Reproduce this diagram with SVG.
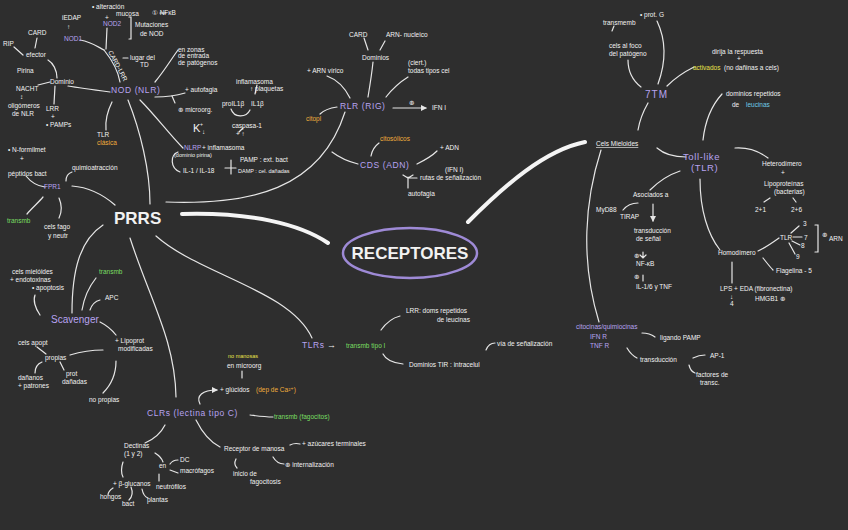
<svg xmlns="http://www.w3.org/2000/svg" width="848" height="530" viewBox="0 0 848 530">
<defs>
<style>
text{font-family:"Liberation Sans","DejaVu Sans",sans-serif;fill:#f2f2f2;font-size:6.5px}
.p{fill:#b7a3f0}.g{fill:#79de63}.o{fill:#f0ad3c}.y{fill:#e9e24a}.c{fill:#6fcbe6}
.m{font-size:8.5px;letter-spacing:0.6px}
.b{font-weight:bold}
.l{fill:none;stroke:#e6e6e6;stroke-width:1.2;stroke-linecap:round}
.k{fill:none;stroke:#f4f4f4;stroke-width:4;stroke-linecap:round}
</style>
<marker id="a" viewBox="0 0 6 6" refX="5" refY="3" markerWidth="5" markerHeight="5" orient="auto"><path d="M0,0 L6,3 L0,6 z" fill="#e6e6e6"/></marker>
</defs>
<rect width="848" height="530" fill="#2e2e2e"/>

<g id="connectors">
<path class="k" d="M182,214 C250,212 300,224 328,243"/>
<path class="k" d="M468,222 C505,185 545,150 585,142"/>
<path class="l" d="M150,204 C150,170 140,130 128,100"/>
<path class="l" d="M115,205 C100,192 85,187 72,186"/>
<path class="l" d="M166,202 C250,205 320,190 345,112"/>
<path class="l" d="M332,152 C340,158 350,162 358,164"/>
<path class="l" d="M156,236 C200,275 290,290 312,338"/>
<path class="l" d="M130,238 C150,300 175,340 176,397"/>
<path class="l" d="M103,225 C80,240 72,270 72,313"/>
<path class="l" d="M80,40 C92,42 98,47 104,50"/>
<path class="l" d="M107,28 L106,49"/>
<path class="l" d="M104,50 C112,60 118,70 120,82"/>
<path class="l" d="M110,92 C95,90 80,88 68,86"/>
<path class="l" d="M57,78 C57,70 53,63 48,60"/>
<path class="l" d="M37,38 L35,48"/>
<path class="l" d="M14,47 L23,55"/>
<path class="l" d="M50,82 L38,85"/>
<path class="l" d="M55,86 L54,104"/>
<path class="l" d="M112,102 C107,112 105,120 106,130"/>
<path class="l" d="M140,100 C155,115 170,135 183,148"/>
<path class="l" d="M155,82 C165,70 172,58 178,50"/>
<path class="l" d="M155,97 C165,97 175,96 185,93"/>
<path class="l" d="M172,96 L175,103"/>
<path class="l" d="M178,152 C170,155 170,168 180,172"/>
<path class="l" d="M225,168 L236,168 M231,160 L231,174"/>
<path class="l" d="M231,109 C234,118 246,118 250,110"/>
<path class="l" d="M255,94 L257,85"/>
<path class="l" d="M239,132 L243,128"/>
<path class="l" d="M129,17 L131,17 L131,39 L129,39"/>
<path class="l" d="M160,13 L166,13"/>
<path class="l" d="M123,58 L128,58"/>
<path class="l" d="M45,187 C36,186 30,181 26,176"/>
<path class="l" d="M66,181 C66,176 69,173 72,172"/>
<path class="l" d="M43,197 C38,203 32,208 27,214"/>
<path class="l" d="M59,198 C62,205 62,212 59,218"/>
<path class="l" d="M40,315 C35,308 33,300 35,295"/>
<path class="l" d="M82,310 C84,298 88,288 96,278"/>
<path class="l" d="M90,310 C92,304 96,301 100,300"/>
<path class="l" d="M100,322 C106,325 112,330 116,335"/>
<path class="l" d="M70,355 C80,352 92,350 103,350"/>
<path class="l" d="M116,361 C116,375 110,386 103,393"/>
<path class="l" d="M37,347 L46,354"/>
<path class="l" d="M42,362 C37,364 35,368 35,373"/>
<path class="l" d="M60,362 L64,370"/>
<path class="l" d="M200,404 C196,396 202,390 217,390" marker-end="url(#a)"/>
<path class="l" d="M242,378 L242,371"/>
<path class="l" d="M250,415 C258,416 264,417 273,417"/>
<path class="l" d="M196,420 C202,432 210,442 220,447"/>
<path class="l" d="M165,425 C160,435 152,440 145,443"/>
<path class="l" d="M123,462 C121,468 121,473 123,477"/>
<path class="l" d="M155,453 C160,456 162,459 163,462"/>
<path class="l" d="M170,464 C172,461 175,460 178,460"/>
<path class="l" d="M170,470 L178,473"/>
<path class="l" d="M159,474 L159,481"/>
<path class="l" d="M113,488 C110,490 108,492 108,495"/>
<path class="l" d="M131,487 C133,492 132,497 129,500"/>
<path class="l" d="M142,489 C143,494 145,497 148,498"/>
<path class="l" d="M290,445 C294,443 296,443 300,444"/>
<path class="l" d="M273,457 C276,462 280,464 284,464"/>
<path class="l" d="M236,459 C234,463 235,466 237,468"/>
<path class="l" d="M381,330 C386,323 392,318 400,316"/>
<path class="l" d="M383,354 C386,360 393,363 403,364"/>
<path class="l" d="M486,350 C488,345 491,343 495,343"/>
<path class="l" d="M368,97 C370,85 372,72 373,62"/>
<path class="l" d="M364,38 L368,50"/>
<path class="l" d="M380,50 L385,41"/>
<path class="l" d="M350,98 C345,88 338,80 327,76"/>
<path class="l" d="M386,97 C393,88 400,82 408,77"/>
<path class="l" d="M337,107 C330,108 324,110 320,114"/>
<path class="l" d="M393,108 L426,108" marker-end="url(#a)"/>
<path class="l" d="M371,156 C372,150 375,146 379,143"/>
<path class="l" d="M417,164 C425,160 432,156 437,151"/>
<path class="l" d="M408,177 L408,188 M403,175 L408,178 L413,175 M408,178 L417,178"/>
<path class="l" d="M638,130 C640,118 644,110 648,103"/>
<path class="l" d="M641,87 C632,80 628,70 628,60"/>
<path class="l" d="M658,84 C666,62 666,40 657,21"/>
<path class="l" d="M667,86 C675,78 684,72 694,67"/>
<path class="l" d="M612,31 L614,26"/>
<path class="l" d="M657,148 C665,155 675,157 686,157"/>
<path class="l" d="M703,140 C705,122 712,105 722,94"/>
<path class="l" d="M735,148 C750,147 760,152 768,158"/>
<path class="l" d="M680,171 C668,175 658,182 650,190"/>
<path class="l" d="M638,203 C632,203 627,205 623,210"/>
<path class="l" d="M653,204 L653,221" marker-end="url(#a)"/>
<path class="l" d="M700,179 C700,210 708,235 720,250"/>
<path class="l" d="M758,251 C765,248 772,243 779,238"/>
<path class="l" d="M763,258 C767,263 770,267 773,270"/>
<path class="l" d="M732,262 L732,283"/>
<path class="l" d="M791,233 L799,226 M793,237 L802,237 M792,241 L800,245 M789,243 L795,254"/>
<path class="l" d="M815,225 L818,225 L818,252 L815,252"/>
<path class="l" d="M770,198 L764,202 M793,198 L796,202"/>
<path class="l" d="M643,252 L643,258 M640,255 L643,258 L646,255"/>
<path class="l" d="M643,275 L643,281"/>
<path class="l" d="M601,150 C585,200 580,260 599,322"/>
<path class="l" d="M642,333 C647,333 651,334 655,337"/>
<path class="l" d="M627,348 C630,353 633,356 637,358"/>
<path class="l" d="M693,358 C697,356 701,355 705,355"/>
<path class="l" d="M689,365 C690,369 692,372 695,373"/>
</g>

<g id="receptores"><ellipse cx="410" cy="253" rx="67" ry="25" fill="none" stroke="#9e8ad6" stroke-width="2.5"/><text x="410" y="259" text-anchor="middle" class="b" style="font-size:17px">RECEPTORES</text></g>
<g id="prrs"><text x="114" y="224" class="b" style="font-size:17px">PRRS</text></g>

<g id="nod">
<text x="92" y="9">• alteración</text><text x="116" y="16">mucosa</text>
<text x="105" y="20">+</text>
<text x="103" y="26" class="p">NOD2</text>
<text x="152" y="15">① NFκB</text>
<text x="135" y="27">Mutaciones</text><text x="140" y="36">de NOD</text>
<text x="62" y="20">iEDAP</text><text x="67" y="29">↑</text>
<text x="64" y="41" class="p">NOD1</text>
<text x="108" y="52" transform="rotate(62 108 52)">CARD-LRR</text>
<text x="130" y="60">lugar del</text><text x="140" y="67">TD</text>
<text x="178" y="52">en zonas</text><text x="178" y="58">de entrada</text><text x="178" y="65">de patógenos</text>
<text x="28" y="35">CARD</text>
<text x="3" y="46">RIP</text>
<text x="26" y="57">efector</text>
<text x="17" y="73">Pirina</text>
<text x="16" y="91">NACHT</text><text x="20" y="99">↕</text>
<text x="8" y="108">oligómeros</text><text x="12" y="116">de NLR</text>
<text x="50" y="84">Dominio</text>
<text x="46" y="111">LRR</text><text x="51" y="119">+</text><text x="46" y="127">• PAMPs</text>
<text x="111" y="93" class="p m">NOD (NLR)</text>
<text x="97" y="137">TLR</text><text x="97" y="145" class="o">clásica</text>
<text x="185" y="92">+ autofagia</text>
<text x="178" y="112">⊕ microorg.</text>
<text x="236" y="84">inflamasoma</text><text x="250" y="91">↑ plaquetas</text>
<text x="222" y="106">proIL1β</text><text x="251" y="106">IL1β</text>
<text x="193" y="132" style="font-size:11px">K</text><text x="200" y="126" style="font-size:5px">+</text><text x="202" y="134">↓</text>
<text x="232" y="128">caspasa-1</text><text x="236" y="136">+ ↑</text>
<text x="184" y="150" class="p">NLRP</text><text x="202" y="150">+ inflamasoma</text>
<text x="174" y="157" style="font-size:5.5px">(dominio pirina)</text>
<text x="183" y="173">IL-1 / IL-18</text>
<text x="240" y="162">PAMP : ext. bact</text>
<text x="238" y="173" style="font-size:5.5px">DAMP : cel. dañadas</text>
</g>

<g id="rlr">
<text x="349" y="37">CARD</text>
<text x="386" y="37">ARN- nucleico</text>
<text x="362" y="60">Dominios</text>
<text x="307" y="73">+ ARN vírico</text>
<text x="408" y="65">(ciert.)</text><text x="408" y="73">todas tipos cel</text>
<text x="340" y="109" class="p m">RLR (RIG)</text>
<text x="306" y="121" class="o">citopl</text>
<text x="409" y="105">⊕</text><text x="432" y="110">IFN I</text>
</g>
<g id="cds">
<text x="360" y="168" class="p m">CDS (ADN)</text>
<text x="380" y="141" class="o">citosólicos</text>
<text x="440" y="150">+ ADN</text>
<text x="445" y="172">(IFN I)</text>
<text x="420" y="180">rutas de señalización</text>
<text x="408" y="196">autofagia</text>
</g>

<g id="fpr1">
<text x="8" y="152">• N-formilmet</text><text x="20" y="161">+</text>
<text x="8" y="176">péptidos bact</text>
<text x="72" y="170">quimioatracción</text>
<text x="44" y="189" class="p">FPR1</text>
<text x="7" y="223" class="g">transmb</text>
<text x="44" y="229">cels fago</text><text x="48" y="238">y neutr</text>
</g>

<g id="scavenger">
<text x="12" y="274">cels mielóides</text>
<text x="10" y="282">+ endotoxinas</text>
<text x="32" y="290">• apoptosis</text>
<text x="99" y="274" class="g">transmb</text>
<text x="105" y="300">APC</text>
<text x="51" y="323" class="p" style="font-size:10px">Scavenger</text>
<text x="115" y="343">+ Lipoprot</text><text x="118" y="351">modificadas</text>
<text x="18" y="345">cels apopt</text>
<text x="45" y="360">propias</text>
<text x="18" y="380">dañanos</text><text x="18" y="388">+ patrones</text>
<text x="66" y="376">prot</text><text x="62" y="384">dañadas</text>
<text x="89" y="402">no propias</text>
</g>

<g id="clrs">
<text x="228" y="358" class="y" style="font-size:5.5px">no manosas</text>
<text x="227" y="368">en microorg</text>
<text x="220" y="392">+ glúcidos</text><text x="256" y="392" class="o">(dep de Ca²⁺)</text>
<text x="147" y="416" class="p m">CLRs (lectina tipo C)</text>
<text x="274" y="419" class="g">transmb (fagocitos)</text>
<text x="124" y="448">Dectinas</text><text x="124" y="456">(1 y 2)</text>
<text x="159" y="468">en</text>
<text x="180" y="462">DC</text><text x="180" y="473">macrófagos</text>
<text x="156" y="489">neutrófilos</text>
<text x="113" y="486">+ β-glucanos</text>
<text x="100" y="499">hongos</text><text x="122" y="506">bact</text><text x="147" y="502">plantas</text>
<text x="224" y="451">Receptor de manosa</text>
<text x="302" y="446">+ azúcares terminales</text>
<text x="285" y="467">⊕ internalización</text>
<text x="233" y="476">inicio de</text><text x="250" y="484">fagocitosis</text>
</g>

<g id="tlrs">
<text x="302" y="348" class="p m">TLRs</text>
<text x="327" y="348" style="font-size:9px">→</text>
<text x="346" y="348" class="g">transmb tipo I</text>
<text x="406" y="313">LRR: doms repetidos</text>
<text x="437" y="322">de leucinas</text>
<text x="409" y="367">Dominios TIR : intracelul</text>
<text x="497" y="346">vía de señalización</text>
</g>

<g id="seventm">
<text x="640" y="17">• prot. G</text>
<text x="603" y="25">transmemb</text>
<text x="609" y="48">cels al foco</text><text x="609" y="56">del patógeno</text>
<text x="645" y="98" class="p" style="font-size:10px;letter-spacing:1px">7TM</text>
<text x="712" y="54">dirija la respuesta</text><text x="737" y="61">+</text>
<text x="693" y="70" class="y">activados</text><text x="724" y="70">(no dañinas a cels)</text>
<text x="726" y="96">dominios repetidos</text>
<text x="732" y="107">de</text><text x="746" y="107" class="c">leucinas</text>
</g>

<g id="cels-mieloides"><text x="596" y="146" style="text-decoration:underline">Cels Mieloides</text></g>

<g id="toll-like">
<text x="683" y="160" class="p" style="font-size:9.5px;letter-spacing:0.6px">Toll-like</text>
<text x="691" y="171" class="p" style="font-size:9.5px;letter-spacing:0.6px">(TLR)</text>
<text x="762" y="166">Heterodímero</text><text x="781" y="175">+</text>
<text x="764" y="186">Lipoproteínas</text><text x="774" y="194">(bacterias)</text>
<text x="755" y="212">2+1</text><text x="791" y="212">2+6</text>
<text x="633" y="197">Asociados a</text>
<text x="596" y="212">MyD88</text><text x="620" y="219">TIRAP</text>
<text x="634" y="233">transducción</text><text x="636" y="241">de señal</text>
<text x="634" y="258">⊕</text>
<text x="636" y="266">NF-κB</text>
<text x="634" y="279">⊕</text>
<text x="636" y="289">IL-1/6 y TNF</text>
<text x="718" y="255">Homodímero</text>
<text x="780" y="240">TLR</text>
<text x="803" y="226">3</text><text x="804" y="240">7</text><text x="801" y="248">8</text><text x="796" y="259">9</text>
<text x="822" y="237">⊕</text><text x="829" y="241">ARN</text>
<text x="776" y="273">Flagelina - 5</text>
<text x="720" y="291">LPS + EDA (fibronectina)</text>
<text x="730" y="299">↓</text><text x="730" y="306">4</text>
<text x="755" y="301">HMGB1 ⊕</text>
</g>

<g id="citocinas">
<text x="576" y="329" class="p">citocinas/quimiocinas</text>
<text x="590" y="339" class="p">IFN R</text>
<text x="590" y="348" class="p">TNF R</text>
<text x="660" y="340">ligando PAMP</text>
<text x="640" y="362">transducción</text>
<text x="710" y="358">AP-1</text>
<text x="696" y="377">factores de</text><text x="700" y="385">transc.</text>
</g>
</svg>
